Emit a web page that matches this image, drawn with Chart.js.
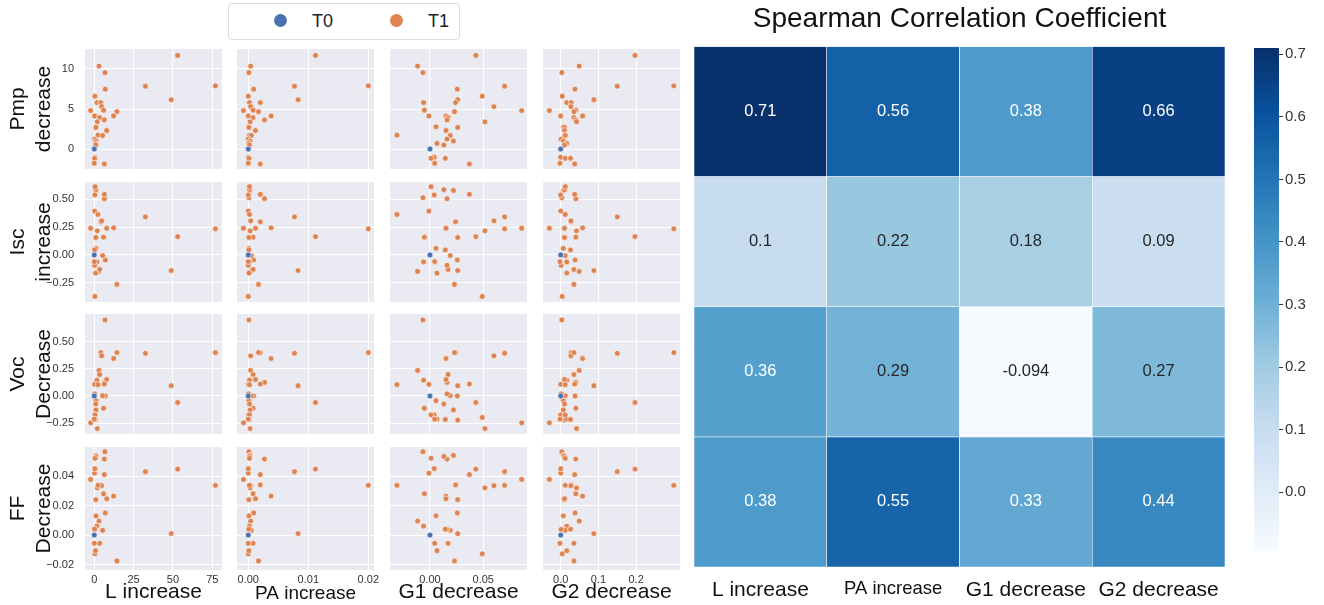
<!DOCTYPE html>
<html>
<head>
<meta charset="utf-8">
<script src="https://cdn.jsdelivr.net/npm/chart.js@4/dist/chart.umd.min.js"></script>
<style>
  body { margin: 0; background: #fff; width: 1324px; height: 605px; overflow: hidden; position: relative;
         font-family: "Liberation Sans", Arial, sans-serif; }
  canvas { position: absolute; }
  #legend { position: absolute; left: 228px; top: 3px; width: 230px; height: 35px; border: 1px solid #dcdcdc;
            border-radius: 4px; background: #fff; }
  #legend .dot { position: absolute; top: 10px; width: 13px; height: 13px; border-radius: 50%; }
  #legend .lab { position: absolute; top: 7px; font-size: 18px; color: #222; }
</style>
</head>
<body>
<div id="legend">
  <span class="dot" style="left:45px;background:#4C72B0"></span><span class="lab" style="left:83px">T0</span>
  <span class="dot" style="left:161px;background:#DD8452"></span><span class="lab" style="left:199px">T1</span>
</div>
<script>
// T1 samples: same sample order in every array
var lIncrease  = [53, 3.0, 6.8, 77, 32.5, 7.0, 0.4, 48.9, 1.7, 4.2, 4.7, 5.9, -2.3, 14.4, 12.3, 0.2, 3.4,
                  6.4, 1.9, 1.1, 1.0, 7.9, 2.3, 5.3, 0.2, 1.1, 0.8, 1.0, 0.4, 0.5, 0.2, 0.0, 6.4];
var paIncrease = [0.0112, 0.0004, 0.0001, 0.0200, 0.0077, 0.0009, 0.0000, 0.0083, 0.0002, 0.0020, 0.0004,
                  0.0008, -0.0008, 0.0017, 0.0038, 0.0000, 0.0008, 0.0027, 0.0003, 0.0001, 0.0001, 0.0012,
                  0.0002, 0.0005, 0.0000, 0.0003, 0.0001, 0.0002, 0.0000, 0.0002, 0.0001, 0.0000, 0.0020];
var g1Decrease = [0.043, -0.0116, -0.0066, 0.070, 0.070, 0.0256, 0.049, 0.026, -0.006, 0.024, 0.060, -0.0053,
                  0.086, 0.023, 0.015, -0.001, 0.017, 0.016, 0.0516, 0.0056, 0.026, 0.015, -0.031, 0.019,
                  0.016, 0.022, 0.0066, 0.013, 0.004, 0.001, 0.0144, 0.0044, 0.037];
var g2Decrease = [0.197, 0.049, 0.003, 0.30, 0.15, 0.038, 0.004, 0.088, 0.016, 0.028, 0.027, 0.04, -0.03,
                  0.035, 0.058, 0.0, 0.035, 0.04, 0.042, 0.007, 0.01, 0.01, 0.012, 0.012, 0.001, 0.007,
                  0.016, 0.01, 0.0, 0.012, 0.026, -0.002, 0.037];
var pmpDecrease = [11.7, 10.37, 9.55, 7.9, 7.85, 7.48, 6.6, 6.16, 5.8, 5.8, 5.3, 4.85, 4.8, 4.67, 4.13, 4.13,
                   3.93, 3.64, 3.4, 2.77, 2.7, 2.31, 1.74, 1.69, 1.24, 1.0, 0.7, 0.5, -1.03, -1.16, -1.16,
                   -1.78, -1.86];
var iscIncrease = [0.165, -0.148, 0.515, 0.235, 0.343, -0.045, -0.373, -0.14, -0.063, 0.298, 0.307, 0.16,
                   0.24, -0.265, 0.244, 0.395, -0.13, 0.506, 0.217, 0.06, 0.157, 0.24, 0.364, -0.006,
                   -0.093, 0.58, -0.163, 0.587, 0.54, 0.614, 0.045, -0.06, 0.545];
var vocDecrease = [-0.06, 0.235, 0.70, 0.40, 0.393, 0.0, -0.198, 0.095, 0.146, 0.40, 0.37, -0.113, -0.247,
                   0.40, 0.345, 0.107, 0.198, 0.125, -0.30, -0.043, -0.222, 0.152, 0.104, 0.003, 0.02,
                   -0.128, -0.213, -0.073, -0.174, -0.174, -0.216, -0.213, 0.11];
var ffDecrease  = [0.0447, 0.0095, 0.0565, 0.0337, 0.043, 0.015, -0.0127, 0.001, 0.0061, 0.034, 0.0335,
                   0.028, 0.0377, -0.0176, 0.0264, 0.042, -0.0056, 0.0515, 0.032, 0.013, 0.024, 0.0246,
                   0.0337, 0.0032, 0.0038, 0.054, -0.0106, 0.0533, 0.045, 0.052, 0.004, -0.0056, 0.041];
// T0 is the reference state, zero change
var t0Point = {x: 0, y: 0};

var xNames = ['L increase', 'PA increase', 'G1 decrease', 'G2 decrease'];
var yNames = [['Pmp', 'decrease'], ['Isc', 'increase'], ['Voc', 'Decrease'], ['FF', 'Decrease']];
var xTickVals = [[0, 25, 50, 75], [0, 0.01, 0.02], [0, 0.05], [0, 0.1, 0.2]];
var yTickVals = [[0, 5, 10], [-0.25, 0, 0.25, 0.5], [-0.25, 0, 0.25, 0.5], [-0.02, 0, 0.02, 0.04]];

// Spearman correlation, rows Pmp / Isc / Voc / FF, columns as xNames
var corrPmp = [0.71, 0.56, 0.38, 0.66];
var corrIsc = [0.1, 0.22, 0.18, 0.09];
var corrVoc = [0.36, 0.29, -0.094, 0.27];
var corrFF  = [0.38, 0.55, 0.33, 0.44];
var cbarTicks = [0, 0.1, 0.2, 0.3, 0.4, 0.5, 0.6, 0.7];

var xData = [lIncrease, paIncrease, g1Decrease, g2Decrease];
var yData = [pmpDecrease, iscIncrease, vocDecrease, ffDecrease];

// layout of the pair grid
var colLeft = [85, 237, 390, 543], panelW = 137;
var rowTop = [49, 182, 314, 447], rowH = [120, 120, 120, 123];
var xRange = [[-5.9, 81.2], [-0.00188, 0.02095], [-0.0375, 0.091], [-0.047, 0.3164]];
var yRange = [[-2.5, 12.5], [-0.423, 0.656], [-0.35, 0.755], [-0.0237, 0.0597]];
var xDec = [0, 2, 2, 1], yDec = [0, 2, 2, 2];

var FONT = '"Liberation Sans", Arial, sans-serif';
Chart.defaults.font.family = FONT;
Chart.defaults.color = '#333';
Chart.defaults.animation = false;
Chart.defaults.plugins.legend.display = false;
Chart.defaults.plugins.tooltip.enabled = false;

var BLUES = ['#f7fbff', '#deebf7', '#c6dbef', '#9ecae1', '#6baed6', '#4292c6', '#2171b5', '#08519c', '#08306b'];
function hex(c) { return [1, 3, 5].map(function (i) { return parseInt(c.substr(i, 2), 16); }); }
function blues(t) {
    t = Math.max(0, Math.min(1, t));
    var p = t * 8, i = Math.min(7, Math.floor(p)), f = p - i;
    var a = hex(BLUES[i]), b = hex(BLUES[i + 1]);
    return 'rgb(' + a.map(function (v, k) { return Math.round(v + (b[k] - v) * f); }).join(',') + ')';
}
function fmt(v, d) {
    var s = v.toFixed(d);
    return s.charAt(0) === '-' ? '\u2212' + s.slice(1) : s;
}
function addCanvas(left, top, w, h) {
    var c = document.createElement('canvas');
    c.width = w; c.height = h;
    c.style.left = left + 'px'; c.style.top = top + 'px';
    c.style.width = w + 'px'; c.style.height = h + 'px';
    document.body.appendChild(c);
    return c;
}

var panelBg = {
    id: 'panelBg',
    beforeDraw: function (chart) {
        var a = chart.chartArea, ctx = chart.ctx;
        ctx.save();
        ctx.fillStyle = '#EAEAF2';
        ctx.fillRect(a.left, a.top, a.right - a.left, a.bottom - a.top);
        ctx.restore();
    }
};

function panel(r, c) {
    var lm = c === 0 ? colLeft[0] : 0;
    var bottomRow = r === 3;
    var rm = bottomRow ? 16 : 0;   // room for the last x tick label
    var h = bottomRow ? 605 - rowTop[r] : rowH[r];
    var canvas = addCanvas(colLeft[c] - lm, rowTop[r], lm + panelW + rm, h);
    var t1 = xData[c].map(function (x, i) { return {x: x, y: yData[r][i]}; });

    new Chart(canvas, {
        type: 'scatter',
        data: {
            datasets: [
                {label: 'T0', data: [t0Point], backgroundColor: '#4C72B0', borderColor: '#fff',
                 borderWidth: 0.6, pointRadius: 2.9},
                {label: 'T1', data: t1, backgroundColor: '#DD8452', borderColor: '#fff',
                 borderWidth: 0.6, pointRadius: 2.9}
            ]
        },
        options: {
            responsive: false,
            events: [],
            layout: {padding: {left: 0, top: 0, bottom: 0, right: rm}, autoPadding: false},
            scales: {
                x: {
                    type: 'linear', min: xRange[c][0], max: xRange[c][1],
                    afterBuildTicks: function (s) { s.ticks = xTickVals[c].map(function (v) { return {value: v}; }); },
                    afterFit: function (s) { s.height = h - rowH[r]; s.paddingLeft = 0; s.paddingRight = 0; },
                    grid: {color: '#fff', lineWidth: 1, drawTicks: false},
                    border: {display: false},
                    ticks: {display: bottomRow, padding: 3, maxRotation: 0, color: '#333', font: {size: 11},
                            callback: function (v) { return fmt(v, xDec[c]); }},
                    title: {display: bottomRow, text: xNames[c], color: '#111',
                            font: {size: c === 1 ? 19 : 21}, padding: {top: 0, bottom: 0}}
                },
                y: {
                    type: 'linear', min: yRange[r][0], max: yRange[r][1],
                    afterBuildTicks: function (s) { s.ticks = yTickVals[r].map(function (v) { return {value: v}; }); },
                    afterFit: function (s) { s.width = lm; s.paddingTop = 0; s.paddingBottom = 0; },
                    grid: {color: '#fff', lineWidth: 1, drawTicks: false},
                    border: {display: false},
                    ticks: {display: c === 0, padding: 11, color: '#333', font: {size: 11},
                            callback: function (v) { return fmt(v, yDec[r]); }},
                    title: {display: c === 0, text: yNames[r], color: '#111', font: {size: 21},
                            padding: {top: 6, bottom: 0}}
                }
            }
        },
        plugins: [panelBg]
    });
}

for (var r = 0; r < 4; r++) {
    for (var c = 0; c < 4; c++) panel(r, c);
}

// heatmap: stacked bars, one dataset per row (bottom row first)
var heatRows = [corrFF, corrVoc, corrIsc, corrPmp];
var allCorr = [].concat(corrPmp, corrIsc, corrVoc, corrFF);
var cMin = Math.min.apply(null, allCorr), cMax = Math.max.apply(null, allCorr);
function norm(v) { return (v - cMin) / (cMax - cMin); }

var cellLabels = {
    id: 'cellLabels',
    afterDatasetsDraw: function (chart) {
        var ctx = chart.ctx;
        ctx.save();
        ctx.font = '16.5px ' + FONT;
        ctx.textAlign = 'center';
        ctx.textBaseline = 'middle';
        chart.data.datasets.forEach(function (ds, di) {
            chart.getDatasetMeta(di).data.forEach(function (bar, i) {
                var v = ds.corr[i];
                var p = bar.getProps(['x', 'y', 'base'], true);
                ctx.fillStyle = v > 0.3 ? '#fff' : '#262626';
                ctx.fillText(String(Number(v.toPrecision(2))), p.x, (p.y + p.base) / 2);
            });
        });
        ctx.restore();
    }
};

new Chart(addCanvas(690, 0, 554, 605), {
    type: 'bar',
    data: {
        labels: xNames,
        datasets: heatRows.map(function (row) {
            return {
                data: row.map(function () { return 1; }),
                corr: row,
                backgroundColor: row.map(function (v) { return blues(norm(v)); }),
                borderColor: '#fff', borderWidth: 0.6, borderSkipped: false,
                barPercentage: 1, categoryPercentage: 1
            };
        })
    },
    options: {
        responsive: false,
        events: [],
        layout: {padding: {left: 4, right: 19}},
        plugins: {
            title: {display: true, text: 'Spearman Correlation Coefficient', color: '#111',
                    font: {size: 28, weight: 'normal'}, padding: {top: 2, bottom: 11}}
        },
        scales: {
            x: {
                stacked: true,
                afterFit: function (s) { s.height = 38; },
                grid: {display: false, drawTicks: false},
                border: {display: false},
                ticks: {padding: 11, color: '#111', maxRotation: 0,
                        font: function (ctx) { return {size: ctx.index === 1 ? 18.5 : 21}; }}
            },
            y: {stacked: true, display: false, min: 0, max: 4}
        }
    },
    plugins: [cellLabels]
});

// colour bar
new Chart(addCanvas(1250, 0, 74, 605), {
    type: 'bar',
    data: {
        labels: [''],
        datasets: [{
            data: [[cMin, cMax]],
            borderWidth: 0, barPercentage: 1, categoryPercentage: 1,
            backgroundColor: function (ctx) {
                var a = ctx.chart.chartArea;
                if (!a) return BLUES[4];
                var g = ctx.chart.ctx.createLinearGradient(0, a.bottom, 0, a.top);
                BLUES.forEach(function (col, i) { g.addColorStop(i / 8, col); });
                return g;
            }
        }]
    },
    options: {
        responsive: false,
        events: [],
        layout: {padding: {top: 48, bottom: 54, left: 4, right: 0}},
        scales: {
            x: {display: false},
            y: {
                position: 'right', min: cMin, max: cMax,
                afterBuildTicks: function (s) { s.ticks = cbarTicks.map(function (v) { return {value: v}; }); },
                afterFit: function (s) { s.width = 45; s.paddingTop = 0; s.paddingBottom = 0; },
                grid: {drawOnChartArea: false, drawTicks: true, tickLength: 4, color: '#333'},
                border: {display: false},
                ticks: {padding: 2, color: '#333', font: {size: 15},
                        callback: function (v) { return v.toFixed(1); }}
            }
        }
    }
});
</script>
</body>
</html>
